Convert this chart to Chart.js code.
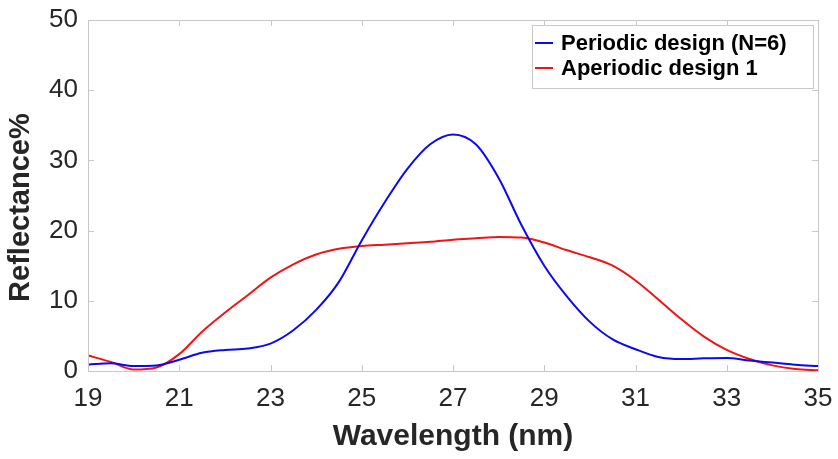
<!DOCTYPE html>
<html>
<head>
<meta charset="utf-8">
<script src="https://cdn.jsdelivr.net/npm/chart.js@4"></script>
<style>
  body { margin: 0; background: #fff; }
  #wrap { width: 838px; height: 459px; }
</style>
</head>
<body>
<div id="wrap"><canvas id="chart"></canvas></div>
<script>
// Wavelength samples (nm)
const wavelengths = [19, 19.5, 20, 20.5, 21, 21.5, 22, 22.5, 23, 23.5, 24, 24.5, 25, 25.5, 26, 26.5, 27,
  27.5, 28, 28.5, 29, 29.5, 30, 30.5, 31, 31.5, 32, 32.5, 33, 33.5, 34, 34.5, 35];

// Reflectance %
const periodic = [0.9, 1.1, 0.7, 0.8, 1.6, 2.6, 3.0, 3.2, 3.9, 5.8, 8.7, 12.7, 18.6, 24.0, 28.8, 32.3, 33.7,
  32.3, 27.5, 20.8, 15.0, 10.6, 7.0, 4.5, 3.1, 2.0, 1.7, 1.8, 1.85, 1.5, 1.2, 0.9, 0.7];
const aperiodic = [2.2, 1.3, 0.2, 0.5, 2.4, 5.6, 8.3, 10.8, 13.3, 15.2, 16.6, 17.4, 17.8, 18.0, 18.2, 18.4, 18.7,
  18.9, 19.1, 19.0, 18.3, 17.2, 16.2, 15.0, 12.9, 10.2, 7.4, 4.9, 3.0, 1.7, 0.8, 0.3, 0.1];

const xTicks = [19, 21, 23, 25, 27, 29, 31, 33, 35];
const yTicks = [0, 10, 20, 30, 40, 50];

const FONT = '"Liberation Sans", Arial, sans-serif';
const toPoints = ys => wavelengths.map((x, i) => ({ x: x, y: ys[i] }));

// box around the plot, inward ticks, legend in the top right corner
const framePlugin = {
  id: 'frame',
  afterDraw(chart) {
    const { ctx, chartArea: a, scales } = chart;
    ctx.save();
    ctx.strokeStyle = '#c8c8c8';
    ctx.lineWidth = 1;
    ctx.strokeRect(a.left + 0.5, a.top + 0.5, a.right - a.left, a.bottom - a.top);
    ctx.beginPath();
    xTicks.forEach(v => {
      const px = Math.round(scales.x.getPixelForValue(v)) + 0.5;
      ctx.moveTo(px, a.bottom); ctx.lineTo(px, a.bottom - 6);
      ctx.moveTo(px, a.top); ctx.lineTo(px, a.top + 6);
    });
    yTicks.forEach(v => {
      const py = Math.round(scales.y.getPixelForValue(v)) + 0.5;
      ctx.moveTo(a.left, py); ctx.lineTo(a.left + 6, py);
      ctx.moveTo(a.right, py); ctx.lineTo(a.right - 6, py);
    });
    ctx.stroke();

    // legend
    const lx = a.right - 286, ly = a.top + 5, lw = 281, lh = 63;
    ctx.fillStyle = '#fff';
    ctx.fillRect(lx, ly, lw, lh);
    ctx.strokeStyle = '#c8c8c8';
    ctx.strokeRect(lx + 0.5, ly + 0.5, lw, lh);
    ctx.font = 'bold 22px ' + FONT;
    ctx.textBaseline = 'middle';
    chart.data.datasets.forEach((ds, i) => {
      const yy = ly + 18 + i * 25;
      ctx.strokeStyle = ds.borderColor;
      ctx.lineWidth = 2;
      ctx.beginPath();
      ctx.moveTo(lx + 3, yy); ctx.lineTo(lx + 21, yy);
      ctx.stroke();
      ctx.fillStyle = '#000';
      ctx.fillText(ds.label, lx + 29, yy + 1);
    });
    ctx.restore();
  }
};

new Chart(document.getElementById('chart'), {
  type: 'line',
  data: {
    datasets: [
      { label: 'Periodic design (N=6)', data: toPoints(periodic), borderColor: '#0a0af0', borderWidth: 2,
        pointRadius: 0, tension: 0.4, cubicInterpolationMode: 'monotone' },
      { label: 'Aperiodic design 1', data: toPoints(aperiodic), borderColor: '#f01414', borderWidth: 2,
        pointRadius: 0, tension: 0.4, cubicInterpolationMode: 'monotone' }
    ]
  },
  options: {
    responsive: true,
    maintainAspectRatio: false,
    animation: false,
    layout: { padding: { top: 20, right: 20, left: 0, bottom: 0 } },
    plugins: { legend: { display: false }, tooltip: { enabled: false } },
    scales: {
      x: {
        type: 'linear', min: 19, max: 35,
        afterBuildTicks: s => { s.ticks = xTicks.map(v => ({ value: v })); },
        afterFit: s => { s.height = 88; },
        grid: { display: false },
        border: { display: false },
        ticks: { color: '#262626', font: { size: 26, family: FONT }, padding: 4, maxRotation: 0 },
        title: { display: true, text: 'Wavelength (nm)', color: '#262626', padding: { top: 0 },
          font: { size: 30, weight: 'bold', family: FONT } }
      },
      y: {
        min: 0, max: 50,
        afterBuildTicks: s => { s.ticks = yTicks.map(v => ({ value: v })); },
        afterFit: s => { s.width = 88; },
        grid: { display: false },
        border: { display: false },
        ticks: { color: '#262626', font: { size: 26, family: FONT }, padding: 2 },
        title: { display: true, text: 'Reflectance%   ', color: '#262626', padding: { bottom: 0 },
          font: { size: 29, weight: 'bold', family: FONT } }
      }
    }
  },
  plugins: [framePlugin]
});
</script>
</body>
</html>
